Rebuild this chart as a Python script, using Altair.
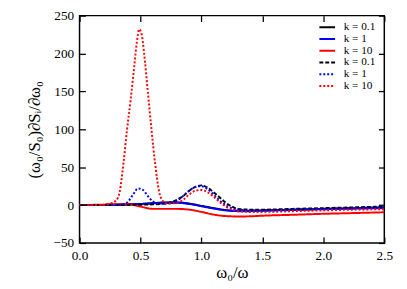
import altair as alt
import pandas as pd

# x positions (omega_0/omega) and series values
x_solid = [0.0, 0.1, 0.2, 0.3, 0.4, 0.5, 0.6, 0.7, 0.8, 0.9, 1.0, 1.1, 1.2, 1.3, 1.4, 1.5, 1.75, 2.0, 2.25, 2.5]
k01_solid = [0, 0.2, 0.3, 0.5, 1.0, 1.5, 2.5, 3.5, 3.5, 2.0, -1.0, -4.0, -6.5, -7.5, -7.5, -7.0, -6.0, -5.0, -4.0, -3.0]
k1_solid = [0, 0.2, 0.3, 0.5, 1.0, 1.5, 2.3, 3.0, 3.0, 1.5, -1.5, -4.5, -7.0, -8.0, -8.0, -7.5, -6.5, -5.5, -4.7, -4.0]
k10_solid = [0, 0.3, 0.6, 1.0, 1.0, -2.0, -5.0, -5.0, -5.0, -6.0, -9.0, -12.5, -14.5, -15.0, -14.8, -14.0, -12.8, -11.5, -10.5, -9.5]

x_k01_dash = [0.0, 0.2, 0.4, 0.5, 0.6, 0.7, 0.75, 0.8, 0.85, 0.9, 0.95, 1.0, 1.05, 1.1, 1.15, 1.2, 1.25, 1.3, 1.4, 1.5, 1.75, 2.0, 2.25, 2.5]
k01_dash = [0, 0, 0.2, 0.5, 1.0, 2.0, 4.0, 7.0, 12.0, 19.0, 24.0, 26.0, 23.0, 17.0, 10.0, 3.0, -2.0, -5.0, -6.0, -6.0, -5.0, -4.0, -3.0, -2.0]

x_k1_dash = [0.0, 0.2, 0.3, 0.36, 0.4, 0.44, 0.48, 0.52, 0.56, 0.6, 0.65, 0.7, 0.75, 0.8, 0.85, 0.9, 0.95, 1.0, 1.05, 1.1, 1.15, 1.2, 1.25, 1.3, 1.4, 1.5, 1.75, 2.0, 2.25, 2.5]
k1_dash = [0, 0, 0.2, 1.0, 5.0, 14.0, 22.0, 20.0, 12.0, 5.0, 2.0, 2.0, 3.0, 6.0, 12.0, 19.0, 24.0, 25.0, 21.0, 14.0, 6.0, 0.0, -4.0, -6.0, -7.0, -7.0, -6.0, -5.0, -4.0, -3.0]

x_k10_dash = [0.0, 0.1, 0.2, 0.25, 0.3, 0.33, 0.36, 0.39, 0.42, 0.45, 0.47, 0.49, 0.51, 0.53, 0.56, 0.59, 0.62, 0.65, 0.68, 0.72, 0.8, 0.85, 0.9, 0.95, 1.0, 1.05, 1.1, 1.15, 1.2, 1.25, 1.3, 1.4, 1.5, 1.75, 2.0, 2.25, 2.5]
k10_dash = [0, 0, 0.5, 2.0, 6.0, 18.0, 55.0, 100.0, 140.0, 185.0, 215.0, 232.0, 225.0, 200.0, 150.0, 100.0, 55.0, 20.0, 6.0, 2.0, 3.0, 7.0, 14.0, 19.0, 20.0, 17.0, 11.0, 4.0, -2.0, -6.0, -8.0, -9.0, -9.0, -8.0, -7.0, -6.0, -5.5]

series_ids = ["a", "b", "c", "d", "e", "f"]
series_labels = ["k = 0.1", "k = 1", "k = 10", "k = 0.1", "k = 1", "k = 10"]
series_colors = ["black", "blue", "red", "black", "blue", "red"]
series_dash = [[1, 0], [1, 0], [1, 0], [4, 2], [2, 2], [2, 2]]

x_ticks = [0.0, 0.5, 1.0, 1.5, 2.0, 2.5]
y_ticks = [-50, 0, 50, 100, 150, 200, 250]

rows = []
for sid, xs, ys in [
    ("a", x_solid, k01_solid),
    ("b", x_solid, k1_solid),
    ("c", x_solid, k10_solid),
    ("d", x_k01_dash, k01_dash),
    ("e", x_k1_dash, k1_dash),
    ("f", x_k10_dash, k10_dash),
]:
    for xv, yv in zip(xs, ys):
        rows.append({"x": xv, "y": yv, "s": sid})
df = pd.DataFrame(rows)

W, H = 311, 232
FONT = "Liberation Serif"
TL = 6

xs = alt.Scale(domain=[0, 2.5], nice=False)
ys = alt.Scale(domain=[-50, 250], nice=False)

label_expr = " : ".join(
    [f"datum.value == '{i}' ? '{l}'" for i, l in zip(series_ids, series_labels)]
) + " : ''"

leg = dict(title=None, orient="none", legendX=247, legendY=6,
           labelExpr=label_expr, symbolType="M-2,0L2,0",
           symbolSize=64, symbolStrokeWidth=2, labelOffset=11,
           labelFontSize=11.5, labelFont=FONT, labelColor="black", rowPadding=-3,
           padding=0)

axis_common = dict(ticks=True, tickSize=TL, tickColor="black", tickWidth=1.3,
                   offset=-TL, domain=False, grid=False, labelPadding=6, zindex=1,
                   labelOverlap=False, labelFlush=False, labelFont=FONT, titleFont=FONT,
                   labelFontSize=13.5, titleFontSize=17, labelColor="black",
                   titleColor="black", titleFontWeight="normal")
x_axis = alt.Axis(values=x_ticks, format=".1f", titlePadding=3, orient="bottom", **axis_common)
y_axis = alt.Axis(values=y_ticks, format="d", titlePadding=10, orient="left", **axis_common)
X_TITLE = "ω₀/ω"
Y_TITLE = "(ω₀/S₀)∂Sᵢ/∂ω₀"

tick_only = dict(ticks=True, tickSize=TL, tickColor="black", tickWidth=1.3, zindex=1,
                 offset=-TL, domain=False, grid=False, labels=False, title=None)

lines = alt.Chart(df).mark_line(strokeWidth=2, interpolate="monotone").encode(
    x=alt.X("x:Q", scale=xs, title=X_TITLE, axis=x_axis),
    y=alt.Y("y:Q", scale=ys, title=Y_TITLE, axis=y_axis),
    color=alt.Color("s:N", scale=alt.Scale(domain=series_ids, range=series_colors),
                    legend=alt.Legend(**leg)),
    strokeDash=alt.StrokeDash("s:N", scale=alt.Scale(domain=series_ids, range=series_dash),
                              legend=alt.Legend(**leg)),
)

ghost = alt.Chart(df).mark_line(opacity=0).encode(
    x=alt.X("x:Q", scale=xs, axis=alt.Axis(values=x_ticks, orient="top", **tick_only)),
    y=alt.Y("y:Q", scale=ys, axis=alt.Axis(values=y_ticks, orient="right", **tick_only)),
    detail="s:N",
)

chart = alt.layer(lines, ghost).resolve_axis(x="independent", y="independent").properties(
    width=W, height=H,
    background="white",
    autosize=alt.AutoSizeParams(type="none"),
    padding={"left": 73, "top": 5, "right": 15, "bottom": 36},
).configure_view(stroke="black", strokeWidth=1.5)

chart.save("out.html", embed_options={"renderer": "svg", "actions": False})
